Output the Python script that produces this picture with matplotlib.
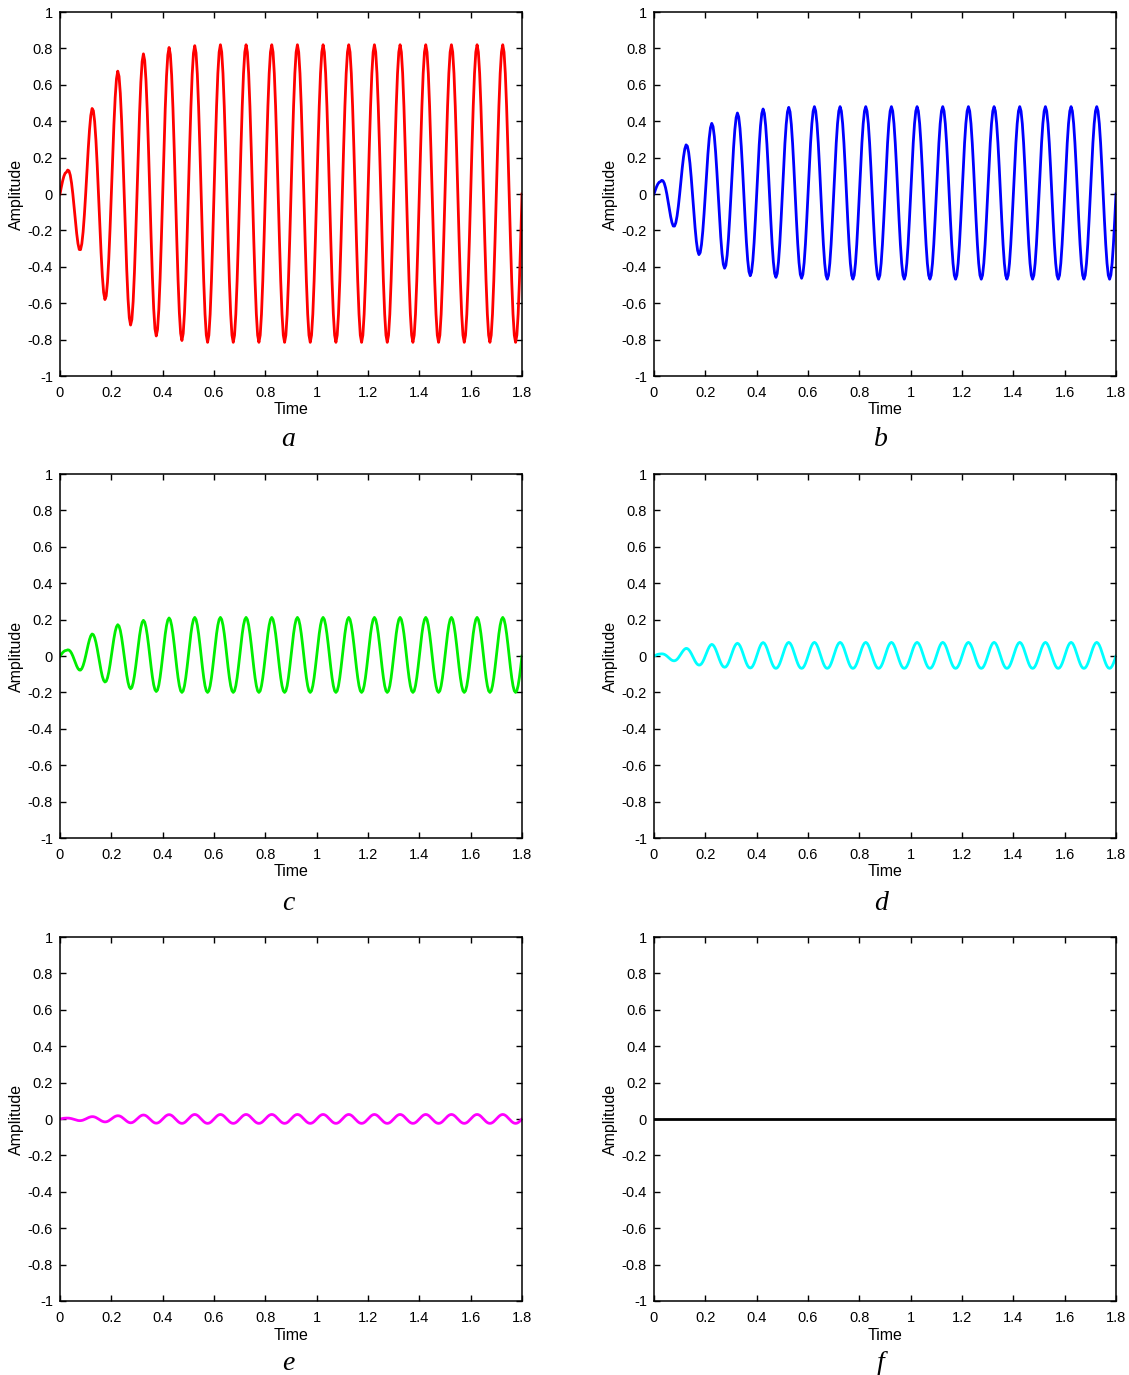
import numpy as np
import matplotlib
matplotlib.use("Agg")
import matplotlib.pyplot as plt
from matplotlib.ticker import FuncFormatter

plt.rcParams["font.family"] = ["Liberation Sans", "DejaVu Sans"]
plt.rcParams["axes.unicode_minus"] = False

# time axis 0..1.8, each wave made of 36 half cycles (peak, trough, peak, ...)
t_end = 1.8

# peak / trough amplitudes
peaks_a = [0.12, 0.47, 0.675, 0.77, 0.805, 0.815, 0.82, 0.82, 0.82, 0.82, 0.82, 0.82, 0.82, 0.82, 0.82, 0.82, 0.82, 0.82]
troughs_a = [-0.305, -0.58, -0.72, -0.78, -0.805, -0.815, -0.815, -0.815, -0.815, -0.815, -0.815, -0.815, -0.815, -0.815, -0.815, -0.815, -0.815, -0.815]

peaks_b = [0.068, 0.27, 0.388, 0.445, 0.467, 0.476, 0.48, 0.48, 0.48, 0.48, 0.48, 0.48, 0.48, 0.48, 0.48, 0.48, 0.48, 0.48]
troughs_b = [-0.176, -0.333, -0.408, -0.449, -0.458, -0.463, -0.468, -0.468, -0.468, -0.468, -0.468, -0.468, -0.468, -0.468, -0.468, -0.468, -0.468, -0.468]

peaks_c = [0.031, 0.121, 0.172, 0.196, 0.209, 0.212, 0.212, 0.212, 0.212, 0.212, 0.212, 0.212, 0.212, 0.212, 0.212, 0.212, 0.212, 0.212]
troughs_c = [-0.077, -0.143, -0.18, -0.195, -0.2, -0.2, -0.2, -0.2, -0.2, -0.2, -0.2, -0.2, -0.2, -0.2, -0.2, -0.2, -0.2, -0.2]

peaks_d = [0.011, 0.042, 0.064, 0.07, 0.074, 0.075, 0.075, 0.075, 0.075, 0.075, 0.075, 0.075, 0.075, 0.075, 0.075, 0.075, 0.075, 0.075]
troughs_d = [-0.026, -0.05, -0.062, -0.066, -0.068, -0.068, -0.068, -0.068, -0.068, -0.068, -0.068, -0.068, -0.068, -0.068, -0.068, -0.068, -0.068, -0.068]

peaks_e = [0.005, 0.013, 0.018, 0.022, 0.024, 0.025, 0.025, 0.025, 0.025, 0.025, 0.025, 0.025, 0.025, 0.025, 0.025, 0.025, 0.025, 0.025]
troughs_e = [-0.009, -0.016, -0.021, -0.023, -0.024, -0.024, -0.024, -0.024, -0.024, -0.024, -0.024, -0.024, -0.024, -0.024, -0.024, -0.024, -0.024, -0.024]

peaks_f = [0.0] * 18
troughs_f = [0.0] * 18

panels = [
    ("a", peaks_a, troughs_a, "#ff0000"),
    ("b", peaks_b, troughs_b, "#0000ff"),
    ("c", peaks_c, troughs_c, "#00ee00"),
    ("d", peaks_d, troughs_d, "#00ffff"),
    ("e", peaks_e, troughs_e, "#ff00ff"),
    ("f", peaks_f, troughs_f, "#000000"),
]

xticks = np.arange(0, 1.81, 0.2)
yticks = np.arange(-1, 1.01, 0.2)


def half_cycles(peaks, troughs):
    # half cycles drawn as sine lobes, envelope follows the read amplitudes
    amps = np.ravel(np.column_stack([peaks, troughs]))
    n = len(amps)
    half = t_end / n
    centers = (np.arange(n) + 0.5) * half
    t = np.linspace(0, t_end, n * 10 + 1)
    env = np.interp(t, centers, np.abs(amps))
    y = env * np.sin(np.pi * t / half)
    return t, y


fig = plt.figure(figsize=(11.29, 13.75), dpi=100)

lefts = [60 / 1129, 654 / 1129]
bottoms = [1 - 376 / 1375, 1 - 838 / 1375, 1 - 1301 / 1375]
w = 462 / 1129
h = 364 / 1375
letter_x = [288 / 1129, 881 / 1129]
letter_y = [1 - 439 / 1375, 1 - 904 / 1375, 1 - 1364 / 1375]

fmt = FuncFormatter(lambda v, p: "%g" % (round(v, 2) + 0.0))

for k, (name, pk, tr, col) in enumerate(panels):
    row, c = divmod(k, 2)
    ax = fig.add_axes([lefts[c], bottoms[row], w, h])
    t, y = half_cycles(pk, tr)
    ax.plot(t, y, color=col, linewidth=2.0)
    ax.set_xlim(0, 1.8)
    ax.set_ylim(-1, 1)
    ax.set_xticks(xticks)
    ax.set_yticks(yticks)
    ax.xaxis.set_major_formatter(fmt)
    ax.yaxis.set_major_formatter(fmt)
    ax.tick_params(direction="in", top=True, right=True, length=4, width=1,
                   labelsize=10.5, pad=5)
    ax.tick_params(axis="x", pad=7)
    for sp in ax.spines.values():
        sp.set_linewidth(1.1)
    ax.set_xlabel("Time", fontsize=11.5, labelpad=2)
    ax.set_ylabel("Amplitude", fontsize=11.5, labelpad=3)
    fig.text(letter_x[c], letter_y[row], name, fontsize=20, style="italic",
             family="Liberation Serif", ha="center", va="center")

fig.savefig("out.png", dpi=100)
